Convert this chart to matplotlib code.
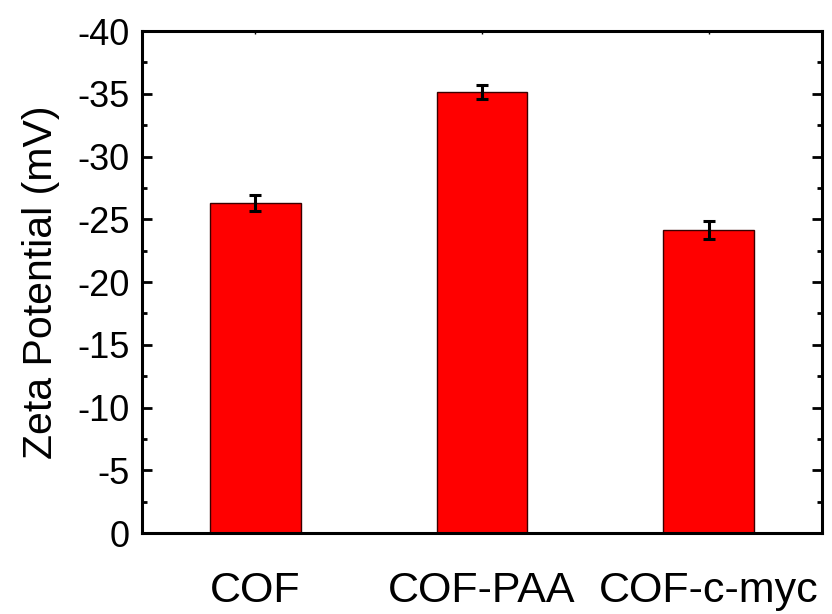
import numpy as np
import matplotlib
matplotlib.use("Agg")
import matplotlib.pyplot as plt
from matplotlib.ticker import MultipleLocator

plt.rcParams['font.family'] = ['Liberation Sans', 'DejaVu Sans']
plt.rcParams['axes.unicode_minus'] = False

# data
samples = ["COF", "COF-PAA", "COF-c-myc"]
zeta = [-26.3, -35.15, -24.15]
zeta_err = [0.65, 0.55, 0.75]

fig = plt.figure(figsize=(8.32, 6.14), dpi=100)
ax = fig.add_axes([0.1707, 0.1319, 0.988 - 0.1707, 0.9495 - 0.1319])

x = np.arange(1, len(samples) + 1)
ax.bar(x, zeta, width=0.4, color='#ff0000', edgecolor='#3a0000', linewidth=1.0, zorder=2)
ax.errorbar(x, zeta, yerr=zeta_err, fmt='none', ecolor='black', elinewidth=2.2,
            capsize=4.5, capthick=2.2, zorder=3)

ax.set_xlim(0.5, 3.5)
ax.set_ylim(0, -40)
ax.yaxis.set_major_locator(MultipleLocator(5))
ax.yaxis.set_minor_locator(MultipleLocator(2.5))
ax.set_xticks(x)
ax.set_xticklabels(samples, fontsize=31)

for s in ax.spines.values():
    s.set_linewidth(2.2)

ax.tick_params(axis='y', which='major', direction='in', length=7, width=2, labelsize=26, pad=9,
               right=True)
ax.tick_params(axis='y', which='minor', direction='in', length=3.5, width=2, right=True)
ax.tick_params(axis='x', which='major', direction='in', length=2, width=1, bottom=False, top=True,
               pad=27)

ax.set_ylabel("Zeta Potential (mV)", fontsize=29.5, labelpad=12)

plt.savefig("out.png", dpi=100)
